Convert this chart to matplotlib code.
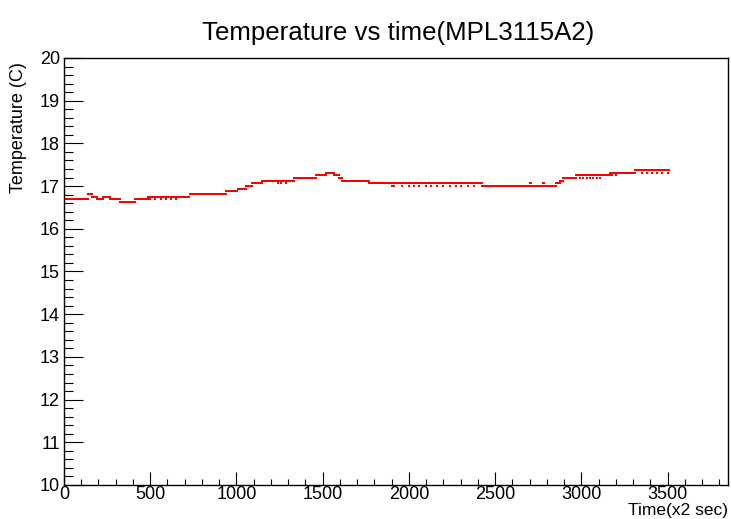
import numpy as np
import matplotlib
matplotlib.use("Agg")
import matplotlib.pyplot as plt
from matplotlib.ticker import MultipleLocator

plt.rcParams['font.family'] = ['Liberation Sans', 'DejaVu Sans']

# --- data: temperature readings (1/16 C resolution) as runs of constant value
run_start = [0, 139, 162, 191, 225, 266, 324, 410, 486, 728, 942, 1006, 1058,
             1092, 1150, 1335, 1462, 1520, 1566, 1595, 1613, 1769, 2422, 2855,
             2875, 2895, 2971, 3167, 3312]
run_temp = [16.6875, 16.8125, 16.75, 16.6875, 16.75, 16.6875, 16.625, 16.6875,
            16.75, 16.8125, 16.875, 16.9375, 17.0, 17.0625, 17.125, 17.1875,
            17.25, 17.3125, 17.25, 17.1875, 17.125, 17.0625, 17.0, 17.0625,
            17.125, 17.1875, 17.25, 17.3125, 17.375]
last_sample = 3510

# single readings that flickered to the neighbouring level
flick_time = [500, 530, 560, 590, 620, 650, 1240, 1260, 1285,
              1900, 1915, 1960, 2000, 2030, 2060, 2100, 2130, 2160, 2200,
              2240, 2270, 2300, 2340, 2380, 2425, 2700, 2705, 2775, 2785,
              2990, 3010, 3030, 3050, 3070, 3090, 3110, 3180, 3200,
              3350, 3380, 3410, 3440, 3470, 3500]
flick_temp = [16.6875] * 6 + [17.0625] * 3 + [17.0] * 15 + [17.0625] * 5 + \
             [17.1875] * 7 + [17.25] * 2 + [17.3125] * 6

title = "Temperature vs time(MPL3115A2)"
xlabel = "Time(x2 sec)"
ylabel = "Temperature (C)"

# expand runs to samples
run_len = np.diff(run_start + [last_sample + 1])
temp = np.repeat(run_temp, run_len)
time = np.arange(len(temp))
temp[np.array(flick_time)] = flick_temp

W, H = 731, 519
fig = plt.figure(figsize=(W / 100, H / 100), dpi=100)
ax = fig.add_axes([64 / W, 1 - 485 / H, (728 - 64) / W, (485 - 58) / H])

ax.plot(time, temp, ls='none', marker='s', ms=2.0, mew=0, color='#ff0000')

ax.set_xlim(0, 3850)
ax.set_ylim(10, 20)
ax.xaxis.set_major_locator(MultipleLocator(500))
ax.xaxis.set_minor_locator(MultipleLocator(100))
ax.yaxis.set_major_locator(MultipleLocator(1))
ax.yaxis.set_minor_locator(MultipleLocator(0.2))

for s in ax.spines.values():
    s.set_linewidth(1.0)

ax.tick_params(axis='both', which='both', direction='in', width=0.8,
               labelsize=13)
ax.tick_params(axis='y', which='major', length=13.7, pad=3)
ax.tick_params(axis='y', which='minor', length=6.5)
ax.tick_params(axis='x', which='major', length=9.4, pad=1)
ax.tick_params(axis='x', which='minor', length=4.3)

ax.set_xlabel(xlabel, fontsize=12.5, loc='right')
ax.xaxis.set_label_coords(1.0, -0.042)
ax.set_ylabel(ylabel, fontsize=13, loc='top')
ax.yaxis.set_label_coords(-0.056, 0.99)

fig.text(398 / W, 1 - 40 / H, title, fontsize=18.6, ha='center',
         va='baseline')

fig.savefig("out.png", dpi=100)
